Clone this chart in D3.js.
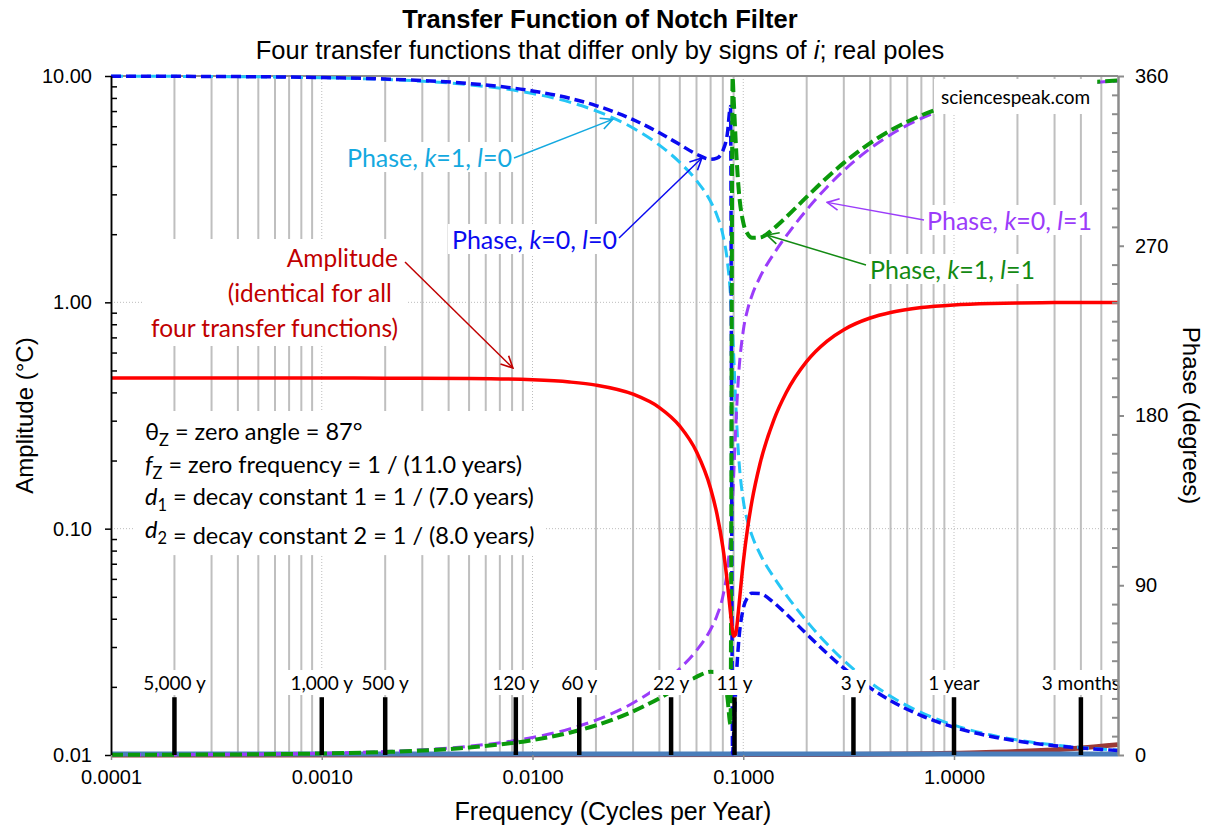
<!DOCTYPE html>
<html>
<head>
<meta charset="utf-8">
<script src="https://cdn.jsdelivr.net/npm/d3@7"></script>
<style>
  body { margin: 0; background: #fff; }
  svg text { font-family: "Liberation Sans", Arial, sans-serif; }
  svg text.cal { font-family: Lato, "Noto Sans", sans-serif; }
</style>
</head>
<body>
<div id="chart"></div>
<script>
// Frequencies (cycles per year) of the sampled curves
const freq = [0.0001, 0.0002, 0.0005, 0.001, 0.002, 0.005, 0.01, 0.015, 0.02,
  0.03, 0.04, 0.05, 0.06, 0.07, 0.075, 0.08, 0.084, 0.087, 0.089,
  0.09, 0.092, 0.093, 0.095, 0.1, 0.105, 0.11, 0.12, 0.14, 0.16,
  0.2, 0.25, 0.3, 0.4, 0.5, 0.7, 1, 1.5, 2, 3, 4, 6];

// Amplitude (°C), same for all four transfer functions
const amplitude = [0.4628, 0.4628, 0.4628, 0.4627, 0.4624, 0.4607, 0.4546, 0.4446, 0.4308,
  0.3927, 0.3428, 0.2838, 0.2187, 0.1505, 0.1162, 0.0829, 0.0580, 0.0424, 0.0354,
  0.0335, 0.0341, 0.0363, 0.0439, 0.0709, 0.1014, 0.1325, 0.1931, 0.3040, 0.3996,
  0.5485, 0.6746, 0.7574, 0.8527, 0.9022, 0.9484, 0.9742, 0.9884, 0.9935, 0.9971, 0.9984, 0.9993];

// Phases (degrees)
const phaseK1L0 = [359.91, 359.82, 359.54, 359.08, 358.15, 355.37, 350.75, 346.15, 341.55,
  332.43, 323.34, 314.19, 304.60, 293.45, 286.19, 275.93, 262.11, 243.84, 224.70,
  212.90, 188.03, 176.81, 159.11, 135.08, 123.59, 116.35, 106.71, 94.06, 84.80,
  70.98, 58.82, 50.08, 38.45, 31.11, 22.45, 15.80, 10.57, 7.94, 5.29, 3.97, 2.59];
const phaseK0L0 = [359.92, 359.84, 359.60, 359.21, 358.41, 356.03, 352.09, 348.18, 344.33,
  336.87, 329.88, 323.63, 318.56, 315.85, 316.47, 320.35, 329.14, 343.84, 0.60,
  11.22, 33.75, 43.82, 59.26, 77.62, 83.79, 85.81, 85.62, 80.65, 74.76,
  64.11, 53.80, 46.08, 35.57, 28.85, 20.87, 14.70, 9.84, 7.39, 4.93, 3.70, 2.41];
const phaseK0L1 = [0.09, 0.18, 0.46, 0.92, 1.85, 4.63, 9.25, 13.85, 18.45,
  27.57, 36.66, 45.81, 55.40, 66.55, 73.81, 84.07, 97.89, 116.16, 135.30,
  147.10, 171.97, 183.19, 200.89, 224.92, 236.41, 243.65, 253.29, 265.94, 275.20,
  289.02, 301.18, 309.92, 321.55, 328.89, 337.55, 344.20, 349.43, 352.06, 354.71, 356.03, 357.41];
const phaseK1L1 = [0.08, 0.16, 0.40, 0.79, 1.59, 3.97, 7.91, 11.82, 15.67,
  23.13, 30.12, 36.37, 41.44, 44.15, 43.53, 39.65, 30.86, 16.16, 359.40,
  348.78, 326.25, 316.18, 300.74, 282.38, 276.21, 274.19, 274.38, 279.35, 285.24,
  295.89, 306.20, 313.92, 324.43, 331.15, 339.13, 345.30, 350.16, 352.61, 355.07, 356.30, 357.59];

// Flat baseline series (amplitude) and slowly rising series (phase)
const baseFreq = [0.0001, 6];
const baseAmp = [0.0101, 0.0101];
const driftFreq = [0.0001, 0.3, 1, 2, 4, 6];
const driftPhase = [0, 0.3, 0.9, 1.8, 3.7, 5.5];

// Period markers
const markerFreq = [0.0002, 0.001, 0.002, 0.008333, 0.016667, 0.045455, 0.090909, 0.33333, 1, 4];
const markerLabels = ["5,000 y", "1,000 y", "500 y", "120 y", "60 y", "22 y", "11 y", "3 y", "1 year", "3 months"];
const markerTop = 0.018;

// Axis ticks
const xTicks = [0.0001, 0.001, 0.01, 0.1, 1];
const ampTicks = [0.01, 0.1, 1, 10];
const phaseTicks = [0, 90, 180, 270, 360];

const W = 1209, H = 830;
const plot = { left: 111, right: 1118, top: 76, bottom: 755 };

const svg = d3.select("#chart").append("svg")
  .attr("width", W)
  .attr("height", H);
svg.append("rect").attr("width", W).attr("height", H).attr("fill", "#fff");

const x = d3.scaleLog().domain([0.0001, 6]).range([plot.left, plot.right]);
const yAmp = d3.scaleLog().domain([0.01, 10]).range([plot.bottom, plot.top]);
const yPh = d3.scaleLinear().domain([0, 360]).range([plot.bottom, plot.top]);

const isDecade = v => Math.abs(Math.log10(v) - Math.round(Math.log10(v))) < 1e-6;

// vertical gridlines
const gridVals = x.ticks().filter(v => v > 0.0001 && v < 6);
svg.append("g").selectAll("line")
  .data(gridVals.filter(v => !isDecade(v)))
  .join("line")
  .attr("x1", d => x(d)).attr("x2", d => x(d))
  .attr("y1", plot.top).attr("y2", plot.bottom)
  .attr("stroke", "#bfbfbf").attr("stroke-width", 2);
svg.append("g").selectAll("line")
  .data(gridVals.filter(isDecade))
  .join("line")
  .attr("x1", d => x(d)).attr("x2", d => x(d))
  .attr("y1", plot.top).attr("y2", plot.bottom)
  .attr("stroke", "#bdbdbd").attr("stroke-width", 1).attr("stroke-dasharray", "1,2");
// horizontal gridlines
svg.append("g").selectAll("line")
  .data([0.1, 1])
  .join("line")
  .attr("x1", plot.left).attr("x2", plot.right)
  .attr("y1", d => yAmp(d)).attr("y2", d => yAmp(d))
  .attr("stroke", "#bdbdbd").attr("stroke-width", 1).attr("stroke-dasharray", "1,2");

// plot frame (top)
svg.append("line").attr("x1", plot.left).attr("x2", plot.right)
  .attr("y1", plot.top).attr("y2", plot.top)
  .attr("stroke", "#8c8c8c").attr("stroke-width", 2);

// series
const ampLine = d3.line().x(d => x(d[0])).y(d => yAmp(d[1])).curve(d3.curveMonotoneX);
const phLine = d3.line().x(d => x(d[0])).y(d => yPh(d[1])).curve(d3.curveMonotoneX);
const pairs = (xs, ys) => xs.map((f, i) => [f, ys[i]]);

svg.append("path").datum(pairs(driftFreq, driftPhase))
  .attr("d", phLine).attr("fill", "none")
  .attr("stroke", "#9b3a36").attr("stroke-width", 5);
svg.append("path").datum(pairs(baseFreq, baseAmp))
  .attr("d", ampLine).attr("fill", "none")
  .attr("stroke", "#4a7ebb").attr("stroke-width", 5);

const phaseSeries = [
  { values: phaseK1L0, color: "#25c6f6", width: 3, dash: "12,6" },
  { values: phaseK0L1, color: "#9b3cfa", width: 3, dash: "12,6" },
  { values: phaseK0L0, color: "#0a0af0", width: 3.5, dash: "10,5" },
  { values: phaseK1L1, color: "#0b990b", width: 4, dash: "12,5" }
];
phaseSeries.forEach(s => {
  svg.append("path").datum(pairs(freq, s.values))
    .attr("d", phLine).attr("fill", "none")
    .attr("stroke", s.color).attr("stroke-width", s.width)
    .attr("stroke-dasharray", s.dash);
});

svg.append("path").datum(pairs(freq, amplitude))
  .attr("d", ampLine).attr("fill", "none")
  .attr("stroke", "#ff0000").attr("stroke-width", 3.5);

// period markers
svg.append("g").selectAll("line")
  .data(markerFreq)
  .join("line")
  .attr("x1", d => x(d)).attr("x2", d => x(d))
  .attr("y1", yAmp(markerTop)).attr("y2", yAmp(0.01))
  .attr("stroke", "#000").attr("stroke-width", 4.5);

// text helpers
function rich(t, parts) {
  parts.forEach(p => {
    const [str, style] = p;
    const ts = t.append("tspan").text(str);
    if (style === "i") ts.attr("font-style", "italic");
    if (style === "sub") ts.attr("font-size", "70%").attr("dy", 6);
    if (style === "after") ts.attr("dy", -6);
  });
  return t;
}
function boxed(g, padX, padY) {
  const b = g.select("text").node().getBBox();
  g.insert("rect", "text")
    .attr("x", b.x - padX).attr("y", b.y - padY)
    .attr("width", b.width + 2 * padX).attr("height", b.height + 2 * padY)
    .attr("fill", "#fff");
}

const mLabels = svg.append("g");
markerFreq.forEach((f, i) => {
  const g = mLabels.append("g");
  g.append("text").attr("class", "cal")
    .attr("x", x(f)).attr("y", 690)
    .attr("text-anchor", "middle").attr("font-size", 19)
    .text(markerLabels[i]);
  boxed(g, 3, 1);
});

// arrow heads
const defs = svg.append("defs");
function arrowHead(id, color) {
  defs.append("marker").attr("id", id)
    .attr("viewBox", "0 0 12 12").attr("refX", 11).attr("refY", 6)
    .attr("markerWidth", 14).attr("markerHeight", 14)
    .attr("markerUnits", "userSpaceOnUse").attr("orient", "auto")
    .append("path").attr("d", "M1,1 L11,6 L1,11")
    .attr("fill", "none").attr("stroke", color).attr("stroke-width", 1.4);
}

// annotations
const notes = [
  { id: "aCyan", color: "#14a9e0", x: 512, y: 167, anchor: "end",
    parts: [["Phase, "], ["k", "i"], ["=1, "], ["l", "i"], ["=0"]],
    from: [514, 158], to: [x(0.024), yPh(337)] },
  { id: "aBlue", color: "#0a0af0", x: 617, y: 249, anchor: "end",
    parts: [["Phase, "], ["k", "i"], ["=0, "], ["l", "i"], ["=0"]],
    from: [619, 238], to: [x(0.0636), yPh(316.5)] },
  { id: "aPurple", color: "#9b3cfa", x: 927, y: 230, anchor: "start",
    parts: [["Phase, "], ["k", "i"], ["=0, "], ["l", "i"], ["=1"]],
    from: [924, 220], to: [x(0.25), yPh(293)] },
  { id: "aGreen", color: "#138a13", x: 870, y: 279, anchor: "start",
    parts: [["Phase, "], ["k", "i"], ["=1, "], ["l", "i"], ["=1"]],
    from: [866, 265], to: [x(0.1294), yPh(275.7)] }
];
notes.forEach(n => {
  const g = svg.append("g");
  const t = g.append("text").attr("class", "cal")
    .attr("x", n.x).attr("y", n.y).attr("text-anchor", n.anchor)
    .attr("font-size", 25).attr("fill", n.color);
  rich(t, n.parts);
  boxed(g, 4, 0);
});

// amplitude note
const ampNote = svg.append("g");
const ampText = ampNote.append("text").attr("class", "cal")
  .attr("text-anchor", "end").attr("font-size", 24.5).attr("fill", "#c00000");
["Amplitude", "(identical for all ", "four transfer functions)"].forEach((s, i) => {
  ampText.append("tspan").attr("x", 398).attr("y", 267 + i * 35).text(s);
});
boxed(ampNote, 8, 4);

// parameter block
const parNote = svg.append("g");
const parText = parNote.append("text").attr("class", "cal").attr("font-size", 23.5).attr("fill", "#000");
const parLines = [
  [["θ"], ["Z", "sub"], [" = zero angle = 87°", "after"]],
  [["f", "i"], ["Z", "sub"], [" = zero frequency = 1 / (11.0 years)", "after"]],
  [["d", "i"], ["1", "sub"], [" = decay constant 1 = 1 / (7.0 years)", "after"]],
  [["d", "i"], ["2", "sub"], [" = decay constant 2 = 1 / (8.0 years"], [")", "i"]]
];
parLines.forEach((line, i) => {
  const row = parText.append("tspan").attr("x", 145).attr("y", 440 + i * 32.7);
  rich(row, line);
});
boxed(parNote, 10, 6);

// watermark
const wm = svg.append("g");
wm.append("text").attr("class", "cal")
  .attr("x", 941).attr("y", 104).attr("font-size", 19).attr("fill", "#000")
  .text("sciencespeak.com");
boxed(wm, 7, 6);

// arrows
arrowHead("aRed", "#c00000");
svg.append("line")
  .attr("x1", 405).attr("y1", 262)
  .attr("x2", x(0.00807)).attr("y2", yAmp(0.5126))
  .attr("stroke", "#c00000").attr("stroke-width", 1.5)
  .attr("marker-end", "url(#aRed)");
notes.forEach(n => {
  arrowHead(n.id, n.color);
  svg.append("line")
    .attr("x1", n.from[0]).attr("y1", n.from[1])
    .attr("x2", n.to[0]).attr("y2", n.to[1])
    .attr("stroke", n.color).attr("stroke-width", 1.5)
    .attr("marker-end", `url(#${n.id})`);
});

// axes
const minorAmp = yAmp.ticks().filter(v => !isDecade(v));
const left = svg.append("g").attr("transform", `translate(${plot.left},0)`);
left.call(d3.axisLeft(yAmp).tickValues(ampTicks).tickFormat(d3.format(".2f"))
  .tickSize(6).tickSizeOuter(0).tickPadding(13));
left.append("g").call(d3.axisLeft(yAmp).tickValues(minorAmp).tickFormat("").tickSize(-6).tickSizeOuter(0));
left.selectAll("path,line").attr("stroke", "#000").attr("stroke-width", 1.5);
left.selectAll("text").attr("font-size", 20).attr("font-family", "Liberation Sans, Arial, sans-serif").attr("fill", "#000");

const minorPh = d3.range(0, 361, 10).filter(v => v % 90 !== 0);
const right = svg.append("g").attr("transform", `translate(${plot.right},0)`);
right.call(d3.axisRight(yPh).tickValues(phaseTicks).tickSize(6).tickSizeOuter(0).tickPadding(11));
right.append("g").call(d3.axisRight(yPh).tickValues(minorPh).tickFormat("").tickSize(-6).tickSizeOuter(0));
right.selectAll("path,line").attr("stroke", "#8c8c8c").attr("stroke-width", 2);
right.selectAll("text").attr("font-size", 20).attr("font-family", "Liberation Sans, Arial, sans-serif").attr("fill", "#000");

const bottom = svg.append("g").attr("transform", `translate(0,${plot.bottom})`);
bottom.call(d3.axisBottom(x).tickValues(xTicks).tickFormat(d3.format(".4f"))
  .tickSize(5).tickSizeOuter(0).tickPadding(10));
bottom.selectAll("path,line").attr("stroke", "#8c8c8c").attr("stroke-width", 1.5);
bottom.select(".domain").remove();
bottom.selectAll("text").attr("font-size", 20).attr("font-family", "Liberation Sans, Arial, sans-serif").attr("fill", "#000");

// titles
svg.append("text").attr("x", 600).attr("y", 28).attr("text-anchor", "middle")
  .attr("font-size", 25.5).attr("font-weight", "bold").text("Transfer Function of Notch Filter");
rich(svg.append("text").attr("x", 600).attr("y", 59).attr("text-anchor", "middle").attr("font-size", 25.5),
  [["Four transfer functions that differ only by signs of "], ["i", "i"], ["; real poles"]]);
svg.append("text").attr("x", 613).attr("y", 820).attr("text-anchor", "middle")
  .attr("font-size", 25).text("Frequency (Cycles per Year)");
svg.append("text").attr("transform", `translate(33,${(plot.top + plot.bottom) / 2}) rotate(-90)`)
  .attr("text-anchor", "middle").attr("font-size", 24).text("Amplitude (°C)");
svg.append("text").attr("transform", `translate(1183,${(plot.top + plot.bottom) / 2}) rotate(90)`)
  .attr("text-anchor", "middle").attr("font-size", 24).text("Phase (degrees)");
</script>
</body>
</html>
